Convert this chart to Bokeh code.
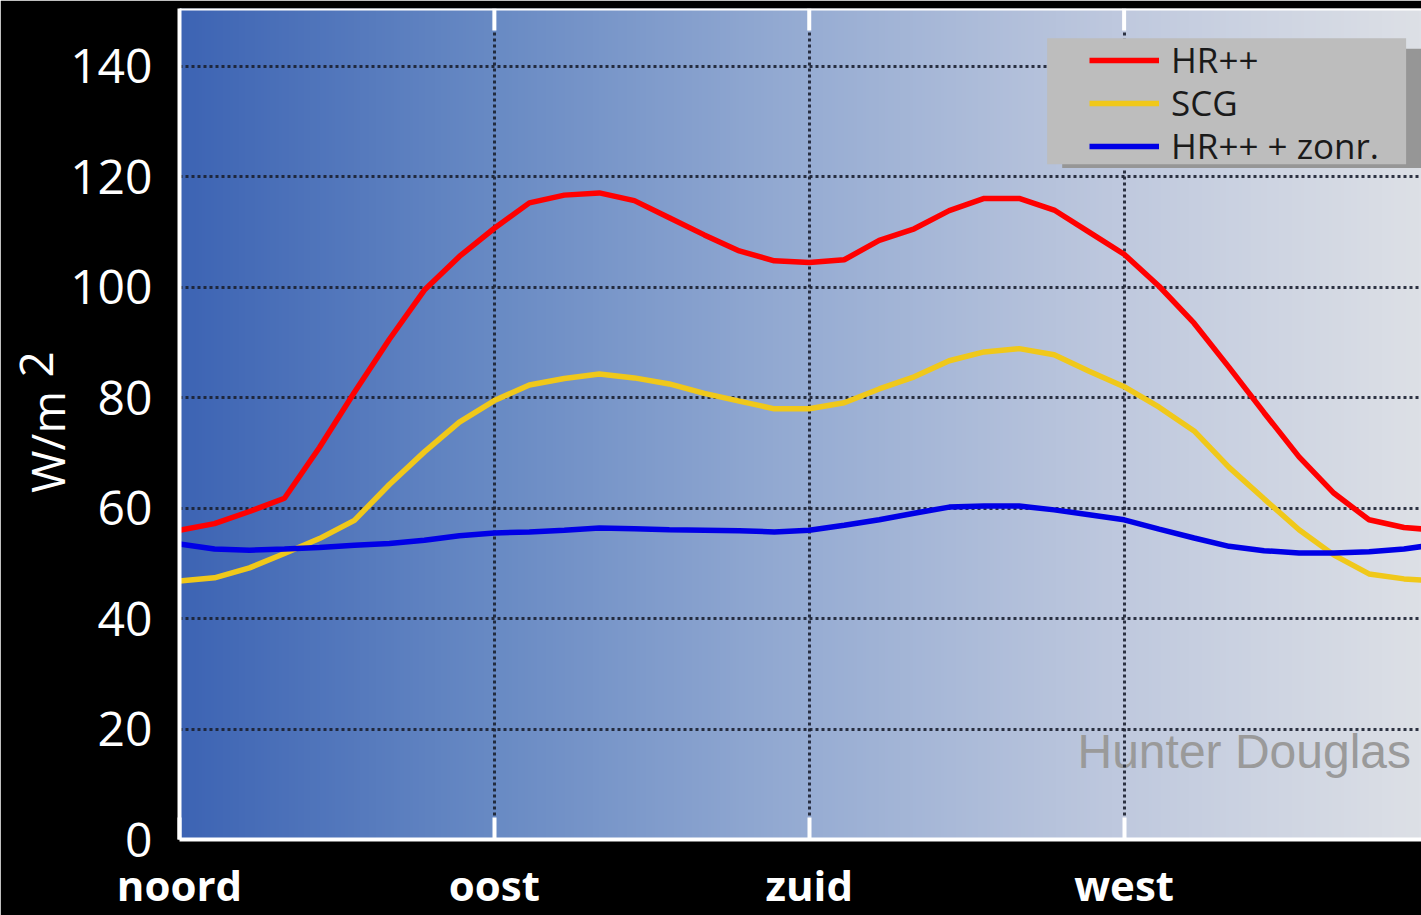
import numpy as np
from bokeh.plotting import figure
from bokeh.models import Range1d, FixedTicker, Legend, LegendItem, Label, Span
from bokeh.embed import file_html
from bokeh.resources import INLINE

# Orientation of the facade in degrees (0 = noord, 90 = oost, 180 = zuid, 270 = west)
azimuth = [0, 10, 20, 30, 40, 50, 60, 70, 80, 90, 100, 110, 120, 130, 140, 150, 160, 170,
           180, 190, 200, 210, 220, 230, 240, 250, 260, 270, 280, 290, 300, 310, 320, 330,
           340, 350, 360]

# Heat load through the glazing in W/m2
hr_plus = [56.0, 57.2, 59.4, 61.8, 71.0, 81.0, 90.6, 99.5, 105.6, 110.7, 115.3, 116.7, 117.1,
           115.7, 112.6, 109.5, 106.6, 104.8, 104.5, 105.0, 108.5, 110.6, 113.9, 116.1, 116.1,
           114.0, 110.0, 106.0, 100.2, 93.5, 85.5, 77.3, 69.3, 62.7, 57.9, 56.5, 56.0]
scg = [46.8, 47.4, 49.2, 51.8, 54.5, 57.8, 64.3, 70.2, 75.6, 79.5, 82.3, 83.5, 84.3, 83.6,
       82.5, 80.8, 79.4, 78.0, 78.0, 79.1, 81.6, 83.8, 86.7, 88.3, 88.9, 87.8, 84.8, 82.0,
       78.3, 74.0, 67.4, 61.7, 56.1, 51.5, 48.1, 47.2, 46.8]
hr_plus_zonr = [53.5, 52.6, 52.4, 52.6, 52.9, 53.3, 53.6, 54.2, 55.0, 55.5, 55.7, 56.0, 56.4,
                56.3, 56.1, 56.0, 55.9, 55.7, 56.0, 56.9, 57.9, 59.1, 60.2, 60.4, 60.4, 59.7,
                58.8, 57.9, 56.2, 54.6, 53.1, 52.3, 51.9, 51.9, 52.1, 52.6, 53.5]

series_names = ["HR++", "SCG", "HR++ + zonr."]
directions = [0, 90, 180, 270]
direction_labels = ["noord", "oost", "zuid", "west"]
y_ticks = [0, 20, 40, 60, 80, 100, 120, 140]

X_MAX = 355
Y_MAX = 150.5
TICK_LEN = 4.0  # length of the inward top ticks, in W/m2

p = figure(width=1421, height=915,
           x_range=Range1d(0, X_MAX), y_range=Range1d(0, Y_MAX),
           output_backend="svg", toolbar_location=None,
           min_border_left=178, min_border_right=0,
           min_border_top=8, min_border_bottom=76,
           background_fill_color="black", border_fill_color="black",
           outline_line_color=None)

# Horizontal blue-to-grey background gradient
stop_pos = [0.0, 0.25, 0.5, 0.75, 1.0]
stop_rgb = [(61, 100, 180), (104, 138, 196), (150, 172, 211), (190, 200, 222), (221, 224, 230)]
n_cols = 400
t = np.linspace(0, 1, n_cols)
grad = np.zeros((1, n_cols), dtype=np.uint32)
view = grad.view(dtype=np.uint8).reshape((1, n_cols, 4))
for ch in range(3):
    view[0, :, ch] = np.interp(t, stop_pos, [c[ch] for c in stop_rgb]).astype(np.uint8)
view[0, :, 3] = 255
p.image_rgba(image=[grad], x=0, y=0, dw=X_MAX, dh=Y_MAX, level="image")

# Watermark sits under the grid
p.add_layout(Label(x=352, y=15.9, text="Hunter Douglas", text_align="right",
                   text_baseline="alphabetic", text_font="Liberation Sans",
                   text_font_size="48px", text_color="#9a9a9a", level="image"))

# Dotted grid
grid_color = "#1b2030"
p.xgrid.ticker = FixedTicker(ticks=[90, 180, 270])
p.ygrid.ticker = FixedTicker(ticks=y_ticks[1:])
for g in (p.xgrid, p.ygrid):
    g.grid_line_color = grid_color
    g.grid_line_width = 3
    g.grid_line_dash = "3 3"
    g.grid_line_alpha = 0.9

# Curves
r_hr = p.line(azimuth, hr_plus, line_color="#ff0000", line_width=5.5)
r_scg = p.line(azimuth, scg, line_color="#f0c81a", line_width=5.5)
r_zonr = p.line(azimuth, hr_plus_zonr, line_color="#0000e6", line_width=5.5)
renderers = [r_hr, r_scg, r_zonr]

# Top frame edge with inward white ticks at the compass directions
p.add_layout(Span(location=Y_MAX, dimension="width", line_color="white", line_width=4))
p.segment(x0=directions[1:], x1=directions[1:], y0=[Y_MAX] * 3, y1=[Y_MAX - TICK_LEN] * 3,
          line_color="white", line_width=4)

# Legend panel with drop shadow
p.quad(left=[252.3], right=[X_MAX + 10], top=[143.2], bottom=[121.6],
       fill_color="#969696", line_color=None)
p.quad(left=[248.0], right=[350.6], top=[145.1], bottom=[122.3],
       fill_color="#bdbdbd", line_color=None)

# One legend entry per row, so the row pitch can be set freely
row_offsets = [756, 713, 670]
for name, rend, off in zip(series_names, renderers, row_offsets):
    p.add_layout(Legend(items=[LegendItem(label=name, renderers=[rend])],
                        location=(910, off), padding=0, margin=0,
                        background_fill_alpha=0, border_line_color=None,
                        glyph_width=70, glyph_height=38, label_height=38,
                        label_standoff=12, spacing=0,
                        label_text_font="Open Sans", label_text_font_size="35px",
                        label_text_color="#1a1a1a"))

# Bottom axis: white frame line, inward white ticks, bold direction names
xa = p.xaxis[0]
xa.ticker = FixedTicker(ticks=directions)
xa.major_label_overrides = {d: lab for d, lab in zip(directions, direction_labels)}
xa.axis_line_color = "white"
xa.axis_line_width = 4
xa.major_tick_line_color = "white"
xa.major_tick_line_width = 4
xa.major_tick_in = 22
xa.major_tick_out = 0
xa.minor_tick_line_color = None
xa.major_label_text_font = "Open Sans"
xa.major_label_text_font_style = "bold"
xa.major_label_text_font_size = "42px"
xa.major_label_text_color = "white"
xa.major_label_standoff = 16

# Left axis
ya = p.yaxis[0]
ya.ticker = FixedTicker(ticks=y_ticks)
ya.axis_line_color = "white"
ya.axis_line_width = 4
ya.major_tick_line_color = None
ya.minor_tick_line_color = None
ya.major_label_text_font = "Open Sans"
ya.major_label_text_font_size = "48px"
ya.major_label_text_color = "white"
ya.major_label_standoff = 21

# Axis title: unit W/m with a raised exponent 2 on its own (tight) line;
# both lines are centred, so padding spaces slide each part along the axis
nbsp = "\u00a0"
ya.axis_label = nbsp * 11 + "2" + nbsp + "\nW/m" + nbsp * 3
ya.axis_label_text_font = "Open Sans"
ya.axis_label_text_font_style = "normal"
ya.axis_label_text_font_size = "46px"
ya.axis_label_text_color = "white"
ya.axis_label_text_line_height = 0.2
ya.axis_label_standoff = -11

open("out.html", "w").write(file_html(p, INLINE))
